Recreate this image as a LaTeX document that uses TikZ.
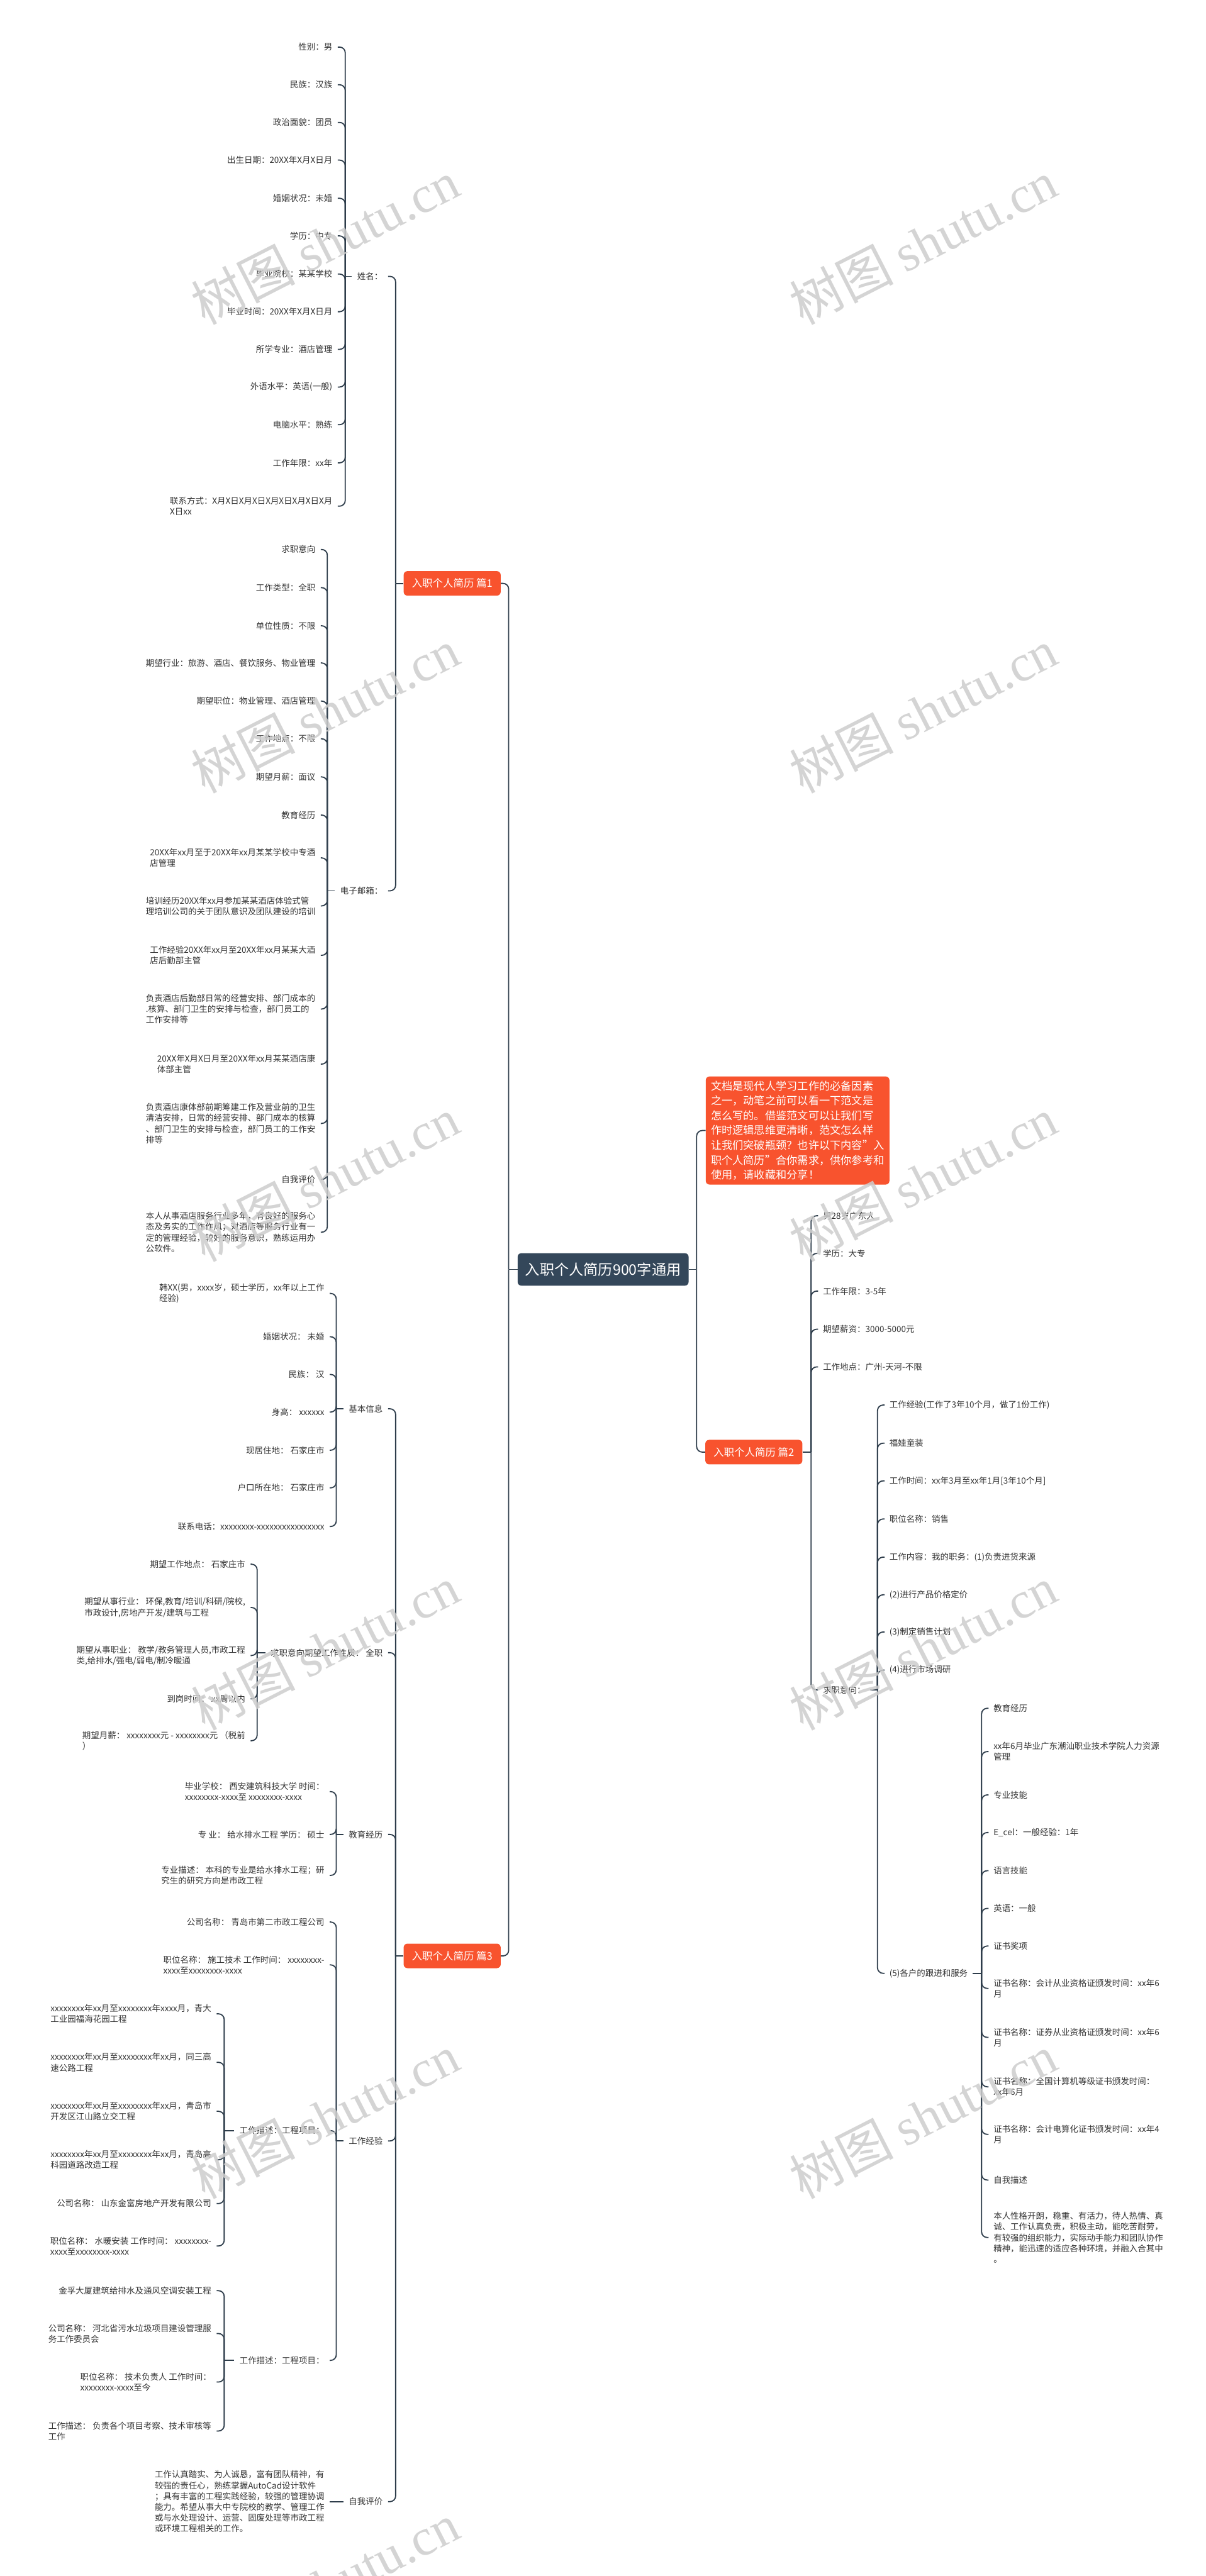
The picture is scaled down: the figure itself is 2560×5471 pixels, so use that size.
\documentclass[tikz,border=0pt]{standalone}
\usepackage{fontspec}
\setmainfont{Noto Sans CJK SC}
\newfontfamily\wmlatin{Liberation Serif}
\newfontfamily\wmcjk{Noto Sans CJK SC}
\definecolor{lnc}{HTML}{2E3D4B}
\definecolor{org}{HTML}{F8532E}
\definecolor{rootc}{HTML}{34475A}
\definecolor{txt}{HTML}{333333}
\definecolor{wm}{HTML}{CDCDCD}
\tikzset{
  leafL/.style={anchor=east, font=\fontsize{9}{11.5}\selectfont, text=txt, inner xsep=5.5pt, inner ysep=1pt, align=left},
  leafR/.style={anchor=west, font=\fontsize{9}{11.5}\selectfont, text=txt, inner xsep=5pt, inner ysep=1pt, align=left},
  conn/.style={draw=lnc, line width=1.2pt, rounded corners=6pt},
  mainbox/.style={fill=org, text=white, rounded corners=4pt, font=\fontsize{11}{13}\selectfont, minimum width=103pt, minimum height=26pt, inner sep=0pt},
  rootbox/.style={fill=rootc, text=white, rounded corners=4pt, font=\fontsize{15.5}{18}\selectfont, minimum width=181.5pt, minimum height=34.5pt, inner sep=0pt},
  descbox/.style={anchor=west, fill=org, text=white, rounded corners=4pt, font=\fontsize{11.5}{15.8}\selectfont, inner xsep=5.5pt, inner ysep=4.5pt, align=left},
  wmark/.style={rotate=27, text=wm, opacity=0.85, font=\fontsize{55}{60}\selectfont}
}
\newcommand\mmLeafL[4]{\node[leafL] (#1) at (#2) {#4}; \draw[conn] (#3) |- (#1.east);}
\newcommand\mmLeafR[4]{\node[leafR] (#1) at (#2) {#4}; \draw[conn] (#3) |- (#1.west);}
\begin{document}
\begin{tikzpicture}[x=0.5pt,y=-0.5pt]
\useasboundingbox (0,0) rectangle (2560,5471);
\fill[white] (0,0) rectangle (2560,5471);

% root and main branches
\node[rootbox] (root) at (1280.5,2696) {入职个人简历900字通用};
\node[mainbox] (p1) at (960,1239) {入职个人简历 篇1};
\node[mainbox] (p3) at (960,4154) {入职个人简历 篇3};
\node[mainbox] (p2) at (1600.5,3084) {入职个人简历 篇2};
\node[descbox] (desc) at (1498,2401) {文档是现代人学习工作的必备因素\\之一，动笔之前可以看一下范文是\\怎么写的。借鉴范文可以让我们写\\作时逻辑思维更清晰，范文怎么样\\让我们突破瓶颈？也许以下内容"入\\职个人简历"合你需求，供你参考和\\使用，请收藏和分享！};
\coordinate (jrl) at (1080,2696);
\coordinate (jrr) at (1479,2696);
\draw[conn] (root.west) -- (jrl);
\draw[conn] (jrl) |- (p1.east);
\draw[conn] (jrl) |- (p3.east);
\draw[conn] (root.east) -- (jrr);
\draw[conn] (jrr) |- (desc.west);
\draw[conn] (jrr) |- (p2.west);

% ---------- 篇1 ----------
\coordinate (jp1) at (840,1239);
\draw[conn] (p1.west) -- (jp1);
\mmLeafL{xm}{824,587}{jp1}{姓名：}
\mmLeafL{dz}{824,1892}{jp1}{电子邮箱：}
\coordinate (jxm) at (733,587);
\draw[conn] (xm.west) -- (jxm);
\mmLeafL{a1}{717,100}{jxm}{性别：男}
\mmLeafL{a2}{717,180}{jxm}{民族：汉族}
\mmLeafL{a3}{717,260}{jxm}{政治面貌：团员}
\mmLeafL{a4}{717,340}{jxm}{出生日期：20XX年X月X日月}
\mmLeafL{a5}{717,421}{jxm}{婚姻状况：未婚}
\mmLeafL{a6}{717,501}{jxm}{学历：中专}
\mmLeafL{a7}{717,582}{jxm}{毕业院校：某某学校}
\mmLeafL{a8}{717,662}{jxm}{毕业时间：20XX年X月X日月}
\mmLeafL{a9}{717,742}{jxm}{所学专业：酒店管理}
\mmLeafL{a10}{717,822}{jxm}{外语水平：英语(一般)}
\mmLeafL{a11}{717,902}{jxm}{电脑水平：熟练}
\mmLeafL{a12}{717,983}{jxm}{工作年限：xx年}
\mmLeafL{a13}{717,1075}{jxm}{联系方式：X月X日X月X日X月X日X月X日X月\\X日xx}

\coordinate (jdz) at (695,1892);
\draw[conn] (dz.west) -- (jdz);
\mmLeafL{b1}{681,1167}{jdz}{求职意向}
\mmLeafL{b2}{681,1248}{jdz}{工作类型：全职}
\mmLeafL{b3}{681,1329}{jdz}{单位性质：不限}
\mmLeafL{b4}{681,1408}{jdz}{期望行业：旅游、酒店、餐饮服务、物业管理}
\mmLeafL{b5}{681,1489}{jdz}{期望职位：物业管理、酒店管理}
\mmLeafL{b6}{681,1569}{jdz}{工作地点：不限}
\mmLeafL{b7}{681,1650}{jdz}{期望月薪：面议}
\mmLeafL{b8}{681,1731}{jdz}{教育经历}
\mmLeafL{b9}{681,1822}{jdz}{20XX年xx月至于20XX年xx月某某学校中专酒\\店管理}
\mmLeafL{b10}{681,1924}{jdz}{培训经历20XX年xx月参加某某酒店体验式管\\理培训公司的关于团队意识及团队建设的培训}
\mmLeafL{b11}{681,2029}{jdz}{工作经验20XX年xx月至20XX年xx月某某大酒\\店后勤部主管}
\mmLeafL{b12}{681,2143}{jdz}{负责酒店后勤部日常的经营安排、部门成本的\\.核算、部门卫生的安排与检查，部门员工的\\工作安排等}
\mmLeafL{b13}{681,2260}{jdz}{20XX年X月X日月至20XX年xx月某某酒店康\\体部主管}
\mmLeafL{b14}{681,2386}{jdz}{负责酒店康体部前期筹建工作及营业前的卫生\\清洁安排，日常的经营安排、部门成本的核算\\、部门卫生的安排与检查，部门员工的工作安\\排等}
\mmLeafL{b15}{681,2505}{jdz}{自我评价}
\mmLeafL{b16}{681,2617}{jdz}{本人从事酒店服务行业多年，有良好的服务心\\态及务实的工作作风；对酒店等服务行业有一\\定的管理经验，较好的服务意识，熟练运用办\\公软件。}

% ---------- 篇3 ----------
\coordinate (jp3) at (840,4154);
\draw[conn] (p3.west) -- (jp3);
\mmLeafL{jb}{824,2992}{jp3}{基本信息}
\mmLeafL{qz}{824,3510}{jp3}{求职意向期望工作性质：~全职}
\mmLeafL{jy}{824,3896}{jp3}{教育经历}
\mmLeafL{gz}{824,4547}{jp3}{工作经验}
\mmLeafL{zw}{824,5313}{jp3}{自我评价}

\coordinate (jjb) at (714,2992);
\draw[conn] (jb.west) -- (jjb);
\mmLeafL{c1}{700,2747}{jjb}{韩XX(男，xxxx岁，硕士学历，xx年以上工作\\经验)}
\mmLeafL{c2}{700,2839}{jjb}{婚姻状况：~未婚}
\mmLeafL{c3}{700,2919}{jjb}{民族：~汉}
\mmLeafL{c4}{700,2999}{jjb}{身高：~xxxxxx}
\mmLeafL{c5}{700,3080}{jjb}{现居住地：~石家庄市}
\mmLeafL{c6}{700,3160}{jjb}{户口所在地：~石家庄市}
\mmLeafL{c7}{700,3242}{jjb}{联系电话：xxxxxxxx-xxxxxxxxxxxxxxxx}

\coordinate (jqz) at (546,3510);
\draw[conn] (qz.west) -- (jqz);
\mmLeafL{d1}{532,3322}{jqz}{期望工作地点：~石家庄市}
\mmLeafL{d2}{532,3414}{jqz}{期望从事行业：~环保,教育/培训/科研/院校,\\市政设计,房地产开发/建筑与工程}
\mmLeafL{d3}{532,3516}{jqz}{期望从事职业：~教学/教务管理人员,市政工程\\类,给排水/强电/弱电/制冷暖通}
\mmLeafL{d4}{532,3608}{jqz}{到岗时间：~xx周以内}
\mmLeafL{d5}{532,3697}{jqz}{期望月薪：~xxxxxxxx元 - xxxxxxxx元 （税前\\）}

\coordinate (jjy) at (714,3896);
\draw[conn] (jy.west) -- (jjy);
\mmLeafL{e1}{700,3805}{jjy}{毕业学校：~西安建筑科技大学 时间：\\xxxxxxxx-xxxx至 xxxxxxxx-xxxx}
\mmLeafL{e2}{700,3896}{jjy}{专 业：~给水排水工程 学历：~硕士}
\mmLeafL{e3}{700,3983}{jjy}{专业描述：~本科的专业是给水排水工程；研\\究生的研究方向是市政工程}

\coordinate (jgz) at (714,4547);
\draw[conn] (gz.west) -- (jgz);
\mmLeafL{f1}{700,4082}{jgz}{公司名称：~青岛市第二市政工程公司}
\mmLeafL{f2}{700,4173}{jgz}{职位名称：~施工技术 工作时间：~xxxxxxxx-\\xxxx至xxxxxxxx-xxxx}
\mmLeafL{ms1}{700,4525}{jgz}{工作描述：工程项目：}
\mmLeafL{ms2}{700,5013}{jgz}{工作描述：工程项目：}

\coordinate (jms1) at (476,4525);
\draw[conn] (ms1.west) -- (jms1);
\mmLeafL{g1}{460,4277}{jms1}{xxxxxxxx年xx月至xxxxxxxx年xxxx月，青大\\工业园福海花园工程}
\mmLeafL{g2}{460,4380}{jms1}{xxxxxxxx年xx月至xxxxxxxx年xx月，同三高\\速公路工程}
\mmLeafL{g3}{460,4484}{jms1}{xxxxxxxx年xx月至xxxxxxxx年xx月，青岛市\\开发区江山路立交工程}
\mmLeafL{g4}{460,4587}{jms1}{xxxxxxxx年xx月至xxxxxxxx年xx月，青岛高\\科园道路改造工程}
\mmLeafL{g5}{460,4680}{jms1}{公司名称：~山东金富房地产开发有限公司}
\mmLeafL{g6}{460,4770}{jms1}{职位名称：~水暖安装 工作时间：~xxxxxxxx-\\xxxx至xxxxxxxx-xxxx}

\coordinate (jms2) at (476,5013);
\draw[conn] (ms2.west) -- (jms2);
\mmLeafL{h1}{460,4865}{jms2}{金孚大厦建筑给排水及通风空调安装工程}
\mmLeafL{h2}{460,4956}{jms2}{公司名称：~河北省污水垃圾项目建设管理服\\务工作委员会}
\mmLeafL{h3}{460,5059}{jms2}{职位名称：~技术负责人 工作时间：\\xxxxxxxx-xxxx至今}
\mmLeafL{h4}{460,5163}{jms2}{工作描述：~负责各个项目考察、技术审核等\\工作}

\node[leafL] (zw1) at (700,5313) {工作认真踏实、为人诚恳，富有团队精神，有\\较强的责任心，熟练掌握AutoCad设计软件\\；具有丰富的工程实践经验，较强的管理协调\\能力。希望从事大中专院校的教学、管理工作\\或与水处理设计、运营、固废处理等市政工程\\或环境工程相关的工作。};
\draw[conn] (zw.west) -- (zw1.east);

% ---------- 篇2 ----------
\coordinate (jp2) at (1722,3084);
\draw[conn] (p2.east) -- (jp2);
\mmLeafR{k1}{1737,2582}{jp2}{男28岁广东人}
\mmLeafR{k2}{1737,2662}{jp2}{学历：大专}
\mmLeafR{k3}{1737,2742}{jp2}{工作年限：3-5年}
\mmLeafR{k4}{1737,2823}{jp2}{期望薪资：3000-5000元}
\mmLeafR{k5}{1737,2903}{jp2}{工作地点：广州-天河-不限}
\mmLeafR{qx}{1737,3589}{jp2}{求职意向：}

\coordinate (jqx) at (1863,3589);
\draw[conn] (qx.east) -- (jqx);
\mmLeafR{m1}{1878,2984}{jqx}{工作经验(工作了3年10个月，做了1份工作)}
\mmLeafR{m2}{1878,3065}{jqx}{福娃童装}
\mmLeafR{m3}{1878,3145}{jqx}{工作时间：xx年3月至xx年1月[3年10个月]}
\mmLeafR{m4}{1878,3226}{jqx}{职位名称：销售}
\mmLeafR{m5}{1878,3307}{jqx}{工作内容：我的职务：(1)负责进货来源}
\mmLeafR{m6}{1878,3387}{jqx}{(2)进行产品价格定价}
\mmLeafR{m7}{1878,3466}{jqx}{(3)制定销售计划}
\mmLeafR{m8}{1878,3547}{jqx}{(4)进行市场调研}
\mmLeafR{m9}{1878,4191}{jqx}{(5)各户的跟进和服务}

\coordinate (jm9) at (2084,4191);
\draw[conn] (m9.east) -- (jm9);
\mmLeafR{n1}{2099,3628}{jm9}{教育经历}
\mmLeafR{n2}{2099,3720}{jm9}{xx年6月毕业广东潮汕职业技术学院人力资源\\管理}
\mmLeafR{n3}{2099,3812}{jm9}{专业技能}
\mmLeafR{n4}{2099,3892}{jm9}{E\_cel：一般经验：1年}
\mmLeafR{n5}{2099,3973}{jm9}{语言技能}
\mmLeafR{n6}{2099,4053}{jm9}{英语：一般}
\mmLeafR{n7}{2099,4133}{jm9}{证书奖项}
\mmLeafR{n8}{2099,4223}{jm9}{证书名称：会计从业资格证颁发时间：xx年6\\月}
\mmLeafR{n9}{2099,4327}{jm9}{证书名称：证券从业资格证颁发时间：xx年6\\月}
\mmLeafR{n10}{2099,4432}{jm9}{证书名称：全国计算机等级证书颁发时间：\\xx年6月}
\mmLeafR{n11}{2099,4533}{jm9}{证书名称：会计电算化证书颁发时间：xx年4\\月}
\mmLeafR{n12}{2099,4630}{jm9}{自我描述}
\mmLeafR{n13}{2099,4752}{jm9}{本人性格开朗，稳重、有活力，待人热情、真\\诚、工作认真负责，积极主动，能吃苦耐劳，\\有较强的组织能力，实际动手能力和团队协作\\精神，能迅速的适应各种环境，并融入合其中\\。}

% ---------- watermarks ----------
\foreach \wy [count=\i] in {515,1510,2505,3500,4495}{
  \node[wmark] (wl\i) at (690,\wy) {\wmcjk 树图 \wmlatin shutu.cn};
  \node[wmark] (wr\i) at (1960,\wy) {\wmcjk 树图 \wmlatin shutu.cn};
}
\node[wmark] (wl6) at (690,5490) {\wmcjk 树图 \wmlatin shutu.cn};
\end{tikzpicture}
\end{document}
